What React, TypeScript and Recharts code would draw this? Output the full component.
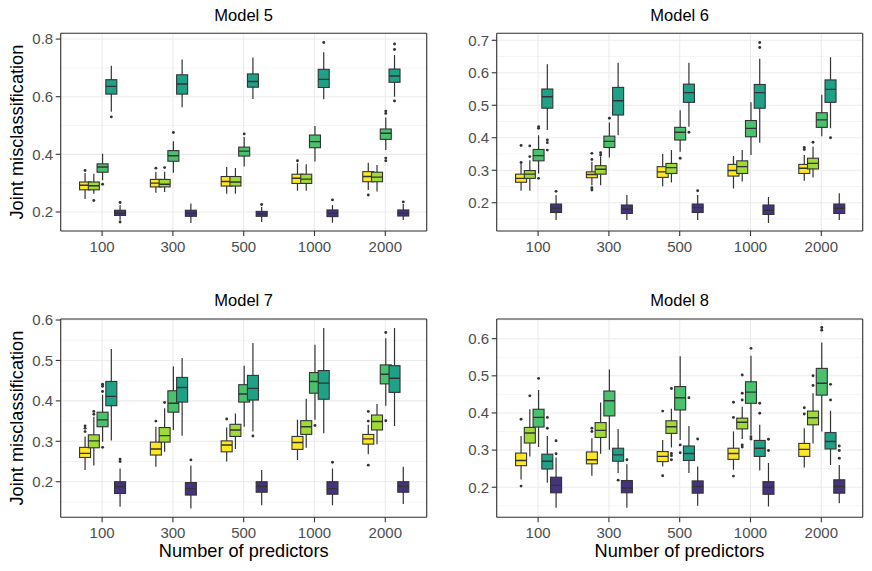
import React from "react";
import {
  ComposedChart,
  Bar,
  XAxis,
  YAxis,
  CartesianGrid,
} from "recharts";

// box = [lower whisker, q1, median, q3, upper whisker, outliers]
type Box = [number, number, number, number, number, number[]];

const predictors = ["100", "300", "500", "1000", "2000"];
const seriesKeys = ["yellow", "lime", "green", "teal", "purple"];
const seriesColors = ["#FDE725", "#A0DA39", "#4AC16D", "#1FA187", "#46337E"];

const model5Yellow: Box[] = [
  [0.245, 0.277, 0.293, 0.304, 0.335, [0.344]],
  [0.267, 0.287, 0.3, 0.313, 0.34, [0.352]],
  [0.263, 0.29, 0.306, 0.323, 0.356, []],
  [0.274, 0.299, 0.317, 0.331, 0.369, [0.378]],
  [0.276, 0.305, 0.323, 0.34, 0.371, [0.259]],
];
const model5Lime: Box[] = [
  [0.263, 0.277, 0.291, 0.304, 0.333, [0.24]],
  [0.269, 0.287, 0.296, 0.313, 0.34, [0.354]],
  [0.263, 0.29, 0.304, 0.323, 0.353, []],
  [0.274, 0.299, 0.314, 0.331, 0.366, []],
  [0.271, 0.305, 0.321, 0.338, 0.363, []],
];
const model5Green: Box[] = [
  [0.31, 0.338, 0.356, 0.367, 0.402, [0.296]],
  [0.336, 0.376, 0.395, 0.413, 0.445, [0.476]],
  [0.358, 0.394, 0.411, 0.425, 0.46, [0.471]],
  [0.375, 0.423, 0.444, 0.467, 0.498, []],
  [0.415, 0.452, 0.473, 0.488, 0.528, [0.542, 0.55, 0.387, 0.378]],
];
const model5Teal: Box[] = [
  [0.548, 0.609, 0.636, 0.659, 0.707, [0.53]],
  [0.563, 0.609, 0.644, 0.676, 0.729, []],
  [0.592, 0.633, 0.653, 0.679, 0.736, []],
  [0.591, 0.632, 0.66, 0.695, 0.754, [0.788]],
  [0.6, 0.65, 0.672, 0.696, 0.745, [0.764, 0.783, 0.585]],
];
const model5Purple: Box[] = [
  [0.171, 0.188, 0.197, 0.206, 0.223, [0.233, 0.165]],
  [0.162, 0.185, 0.195, 0.206, 0.229, []],
  [0.165, 0.185, 0.194, 0.202, 0.217, [0.226]],
  [0.163, 0.184, 0.195, 0.207, 0.224, [0.242]],
  [0.172, 0.186, 0.195, 0.207, 0.228, [0.235]],
];

const model6Yellow: Box[] = [
  [0.237, 0.263, 0.275, 0.288, 0.321, [0.324, 0.376]],
  [0.254, 0.277, 0.287, 0.295, 0.326, [0.333, 0.352, 0.246, 0.239]],
  [0.251, 0.278, 0.295, 0.311, 0.35, []],
  [0.244, 0.282, 0.299, 0.318, 0.344, []],
  [0.268, 0.29, 0.306, 0.318, 0.347, [0.364, 0.37]],
];
const model6Lime: Box[] = [
  [0.237, 0.275, 0.288, 0.299, 0.331, [0.342, 0.375]],
  [0.254, 0.288, 0.303, 0.314, 0.342, [0.347, 0.354]],
  [0.262, 0.29, 0.308, 0.321, 0.362, []],
  [0.265, 0.29, 0.311, 0.329, 0.362, []],
  [0.278, 0.304, 0.321, 0.337, 0.372, [0.386]],
];
const model6Green: Box[] = [
  [0.29, 0.329, 0.345, 0.364, 0.408, [0.429, 0.434, 0.275]],
  [0.339, 0.37, 0.389, 0.405, 0.447, [0.46]],
  [0.357, 0.393, 0.417, 0.432, 0.485, [0.337]],
  [0.347, 0.403, 0.429, 0.453, 0.509, []],
  [0.405, 0.432, 0.455, 0.477, 0.532, []],
];
const model6Teal: Box[] = [
  [0.424, 0.491, 0.526, 0.55, 0.626, [0.393, 0.385, 0.362]],
  [0.408, 0.47, 0.514, 0.555, 0.631, []],
  [0.434, 0.509, 0.539, 0.565, 0.631, [0.417]],
  [0.385, 0.491, 0.539, 0.564, 0.643, [0.678, 0.693]],
  [0.429, 0.509, 0.549, 0.578, 0.648, [0.4]],
];
const model6Purple: Box[] = [
  [0.147, 0.17, 0.183, 0.196, 0.224, [0.235]],
  [0.147, 0.167, 0.18, 0.193, 0.224, []],
  [0.147, 0.17, 0.185, 0.196, 0.224, [0.237]],
  [0.138, 0.164, 0.177, 0.193, 0.218, []],
  [0.147, 0.167, 0.183, 0.196, 0.229, []],
];

const model7Yellow: Box[] = [
  [0.229, 0.26, 0.27, 0.285, 0.312, [0.324, 0.332, 0.338]],
  [0.237, 0.266, 0.281, 0.298, 0.336, [0.35]],
  [0.25, 0.274, 0.291, 0.301, 0.334, [0.355]],
  [0.254, 0.28, 0.297, 0.312, 0.353, []],
  [0.268, 0.293, 0.306, 0.317, 0.341, [0.35, 0.374, 0.241]],
];
const model7Lime: Box[] = [
  [0.24, 0.284, 0.301, 0.316, 0.361, [0.367, 0.374]],
  [0.274, 0.298, 0.314, 0.334, 0.382, [0.396]],
  [0.281, 0.312, 0.328, 0.342, 0.369, []],
  [0.284, 0.317, 0.336, 0.351, 0.405, []],
  [0.293, 0.328, 0.349, 0.365, 0.392, []],
];
const model7Green: Box[] = [
  [0.299, 0.336, 0.353, 0.372, 0.415, [0.423, 0.436, 0.441, 0.285]],
  [0.328, 0.372, 0.394, 0.425, 0.485, []],
  [0.336, 0.397, 0.417, 0.44, 0.487, []],
  [0.353, 0.419, 0.448, 0.47, 0.539, [0.339]],
  [0.388, 0.442, 0.466, 0.489, 0.555, [0.569, 0.351]],
];
const model7Teal: Box[] = [
  [0.302, 0.388, 0.411, 0.448, 0.528, []],
  [0.314, 0.397, 0.433, 0.458, 0.506, []],
  [0.324, 0.402, 0.431, 0.463, 0.543, [0.313]],
  [0.32, 0.404, 0.444, 0.475, 0.58, []],
  [0.338, 0.421, 0.456, 0.487, 0.58, []],
];
const model7Purple: Box[] = [
  [0.138, 0.171, 0.188, 0.2, 0.233, [0.25, 0.256]],
  [0.134, 0.167, 0.183, 0.198, 0.24, [0.254]],
  [0.142, 0.174, 0.188, 0.2, 0.229, []],
  [0.142, 0.169, 0.183, 0.2, 0.233, [0.248]],
  [0.145, 0.174, 0.188, 0.2, 0.237, []],
];

const model8Yellow: Box[] = [
  [0.221, 0.258, 0.272, 0.292, 0.338, [0.383, 0.203]],
  [0.231, 0.263, 0.274, 0.295, 0.332, [0.35, 0.359]],
  [0.256, 0.269, 0.283, 0.296, 0.327, [0.405, 0.231]],
  [0.247, 0.275, 0.291, 0.305, 0.35, [0.388, 0.429, 0.23]],
  [0.253, 0.283, 0.302, 0.318, 0.359, [0.397, 0.414]],
];
const model8Lime: Box[] = [
  [0.283, 0.319, 0.346, 0.361, 0.41, [0.446]],
  [0.29, 0.334, 0.353, 0.374, 0.428, []],
  [0.307, 0.345, 0.363, 0.379, 0.411, [0.466, 0.291, 0.285, 0.274]],
  [0.33, 0.357, 0.375, 0.386, 0.417, [0.502, 0.453, 0.435, 0.314, 0.308]],
  [0.318, 0.368, 0.387, 0.405, 0.453, [0.474, 0.5]],
];
const model8Green: Box[] = [
  [0.308, 0.362, 0.388, 0.41, 0.462, [0.493]],
  [0.301, 0.392, 0.433, 0.459, 0.517, []],
  [0.327, 0.408, 0.441, 0.471, 0.553, [0.314, 0.293]],
  [0.341, 0.426, 0.456, 0.484, 0.554, [0.574, 0.336, 0.33]],
  [0.35, 0.448, 0.48, 0.52, 0.59, [0.623, 0.63]],
];
const model8Teal: Box[] = [
  [0.212, 0.249, 0.27, 0.289, 0.338, [0.359, 0.388]],
  [0.238, 0.27, 0.287, 0.305, 0.357, [0.219]],
  [0.238, 0.272, 0.291, 0.311, 0.365, [0.441]],
  [0.245, 0.283, 0.305, 0.326, 0.368, [0.399, 0.426]],
  [0.26, 0.303, 0.323, 0.347, 0.406, [0.435, 0.477]],
];
const model8Purple: Box[] = [
  [0.145, 0.185, 0.205, 0.227, 0.28, [0.29, 0.325]],
  [0.145, 0.185, 0.198, 0.218, 0.262, [0.274]],
  [0.15, 0.184, 0.202, 0.217, 0.256, [0.33]],
  [0.148, 0.181, 0.2, 0.215, 0.265, [0.299, 0.329]],
  [0.157, 0.184, 0.202, 0.22, 0.26, [0.278, 0.299, 0.311]],
];

const FONT = '"Liberation Sans", Arial, Helvetica, sans-serif';
const border = { stroke: "#333333", strokeWidth: 1.1 };

const buildRows = (series: Box[][]) =>
  predictors.map((p, i) => {
    const row: any = { p };
    seriesKeys.forEach((k, s) => {
      row[k] = series[s][i];
    });
    return row;
  });

// draws one box from the bar rectangle that spans the whiskers
const boxShape = (key: string, color: string) => (props: any) => {
  const { x, y, width, height, payload } = props;
  const b: Box = payload[key];
  if (!b) return <g />;
  const lo = b[0];
  const hi = b[4];
  const top = Math.min(y, y + height);
  const bot = Math.max(y, y + height);
  const py = (v: number) => top + ((hi - v) / (hi - lo)) * (bot - top);
  const cx = x + width / 2;
  const bw = 11;
  return (
    <g>
      <line x1={cx} x2={cx} y1={py(hi)} y2={py(lo)} stroke="#333333" strokeWidth={1.2} />
      <rect
        x={cx - bw / 2}
        y={py(b[3])}
        width={bw}
        height={py(b[1]) - py(b[3])}
        fill={color}
        stroke="#333333"
        strokeWidth={1.1}
      />
      <line x1={cx - bw / 2} x2={cx + bw / 2} y1={py(b[2])} y2={py(b[2])} stroke="#333333" strokeWidth={1.4} />
      {b[5].map((o, j) => (
        <circle key={j} cx={cx} cy={py(o)} r={1.45} fill="#333333" />
      ))}
    </g>
  );
};

type PanelProps = {
  title: string;
  series: Box[][];
  domain: [number, number];
  ticks: number[];
  minor: number[];
  left: number;
  top: number;
  height: number;
  marginTop: number;
  marginBottom: number;
};

const Panel = ({ title, series, domain, ticks, minor, left, top, height, marginTop, marginBottom }: PanelProps) => {
  const rows = buildRows(series);
  return (
    <div style={{ position: "absolute", left, top, width: 436, height }}>
      <div
        style={{
          position: "absolute",
          left: 60.7,
          width: 366,
          top: 6.7,
          textAlign: "center",
          fontSize: 16.5,
          lineHeight: "16.5px",
          color: "#000",
          whiteSpace: "nowrap",
        }}
      >
        {title}
      </div>
      <ComposedChart
        width={436}
        height={height}
        data={rows}
        margin={{ top: marginTop - 1, right: 8.3, bottom: marginBottom, left: 0 }}
        barGap={0}
        barCategoryGap={0}
      >
        <CartesianGrid
          stroke="#EBEBEB"
          strokeWidth={0.55}
          vertical={false}
          horizontalValues={minor}
        />
        <CartesianGrid stroke="#EBEBEB" strokeWidth={1.1} />
        <XAxis
          dataKey="p"
          type="category"
          interval={0}
          padding={{ left: 6, right: 6 }}
          axisLine={border}
          tickLine={border}
          tickSize={5}
          tickMargin={5.3}
          height={30}
          tick={{ fontSize: 15, fill: "#4D4D4D", fontFamily: FONT }}
        />
        <XAxis
          xAxisId="top"
          orientation="top"
          dataKey="p"
          type="category"
          height={1}
          axisLine={border}
          tick={false}
          tickLine={false}
        />
        <YAxis
          type="number"
          domain={domain}
          ticks={ticks}
          allowDataOverflow
          width={60.7}
          axisLine={border}
          tickLine={border}
          tickSize={5}
          tickMargin={2.5}
          tickFormatter={(v: number) => v.toFixed(1)}
          tick={{ fontSize: 15, fill: "#4D4D4D", fontFamily: FONT }}
        />
        <YAxis
          yAxisId="right"
          orientation="right"
          type="number"
          domain={domain}
          allowDataOverflow
          width={1}
          axisLine={border}
          tick={false}
          tickLine={false}
        />
        {seriesKeys.map((k, s) => (
          <Bar
            key={k}
            dataKey={(r: any) => [r[k][0], r[k][4]]}
            barSize={8.75}
            fill={seriesColors[s]}
            shape={boxShape(k, seriesColors[s])}
            isAnimationActive={false}
          />
        ))}
      </ComposedChart>
    </div>
  );
};

const YTitle = ({ cy }: { cy: number }) => (
  <div
    style={{
      position: "absolute",
      left: 17.2 - 130,
      top: cy - 9.1,
      width: 260,
      height: 18.2,
      lineHeight: "18.2px",
      fontSize: 18.2,
      textAlign: "center",
      transform: "rotate(-90deg)",
      transformOrigin: "50% 50%",
      whiteSpace: "nowrap",
    }}
  >
    Joint misclassification
  </div>
);

const XTitle = ({ cx }: { cx: number }) => (
  <div
    style={{
      position: "absolute",
      left: cx - 150,
      top: 542.3,
      width: 300,
      fontSize: 18.2,
      lineHeight: "18.2px",
      textAlign: "center",
      whiteSpace: "nowrap",
    }}
  >
    Number of predictors
  </div>
);

export default function App() {
  return (
    <div
      style={{
        position: "absolute",
        left: 0,
        top: 0,
        width: 872,
        height: 571,
        background: "#ffffff",
        fontFamily: FONT,
        color: "#000",
      }}
    >
      <Panel
        title="Model 5"
        series={[model5Yellow, model5Lime, model5Green, model5Teal, model5Purple]}
        domain={[0.134, 0.82]}
        ticks={[0.2, 0.4, 0.6, 0.8]}
        minor={[0.3, 0.5, 0.7]}
        left={0}
        top={0}
        height={280}
        marginTop={33.3}
        marginBottom={19}
      />
      <Panel
        title="Model 6"
        series={[model6Yellow, model6Lime, model6Green, model6Teal, model6Purple]}
        domain={[0.113, 0.7215]}
        ticks={[0.2, 0.3, 0.4, 0.5, 0.6, 0.7]}
        minor={[0.15, 0.25, 0.35, 0.45, 0.55, 0.65]}
        left={436}
        top={0}
        height={280}
        marginTop={33.3}
        marginBottom={19}
      />
      <Panel
        title="Model 7"
        series={[model7Yellow, model7Lime, model7Green, model7Teal, model7Purple]}
        domain={[0.112, 0.6025]}
        ticks={[0.2, 0.3, 0.4, 0.5, 0.6]}
        minor={[0.15, 0.25, 0.35, 0.45, 0.55]}
        left={0}
        top={285}
        height={286}
        marginTop={34}
        marginBottom={23.7}
      />
      <Panel
        title="Model 8"
        series={[model8Yellow, model8Lime, model8Green, model8Teal, model8Purple]}
        domain={[0.119, 0.653]}
        ticks={[0.2, 0.3, 0.4, 0.5, 0.6]}
        minor={[0.15, 0.25, 0.35, 0.45, 0.55, 0.65]}
        left={436}
        top={285}
        height={286}
        marginTop={34}
        marginBottom={23.7}
      />
      <YTitle cy={132.2} />
      <YTitle cy={418.2} />
      <XTitle cx={243.7} />
      <XTitle cx={679.5} />
    </div>
  );
}
